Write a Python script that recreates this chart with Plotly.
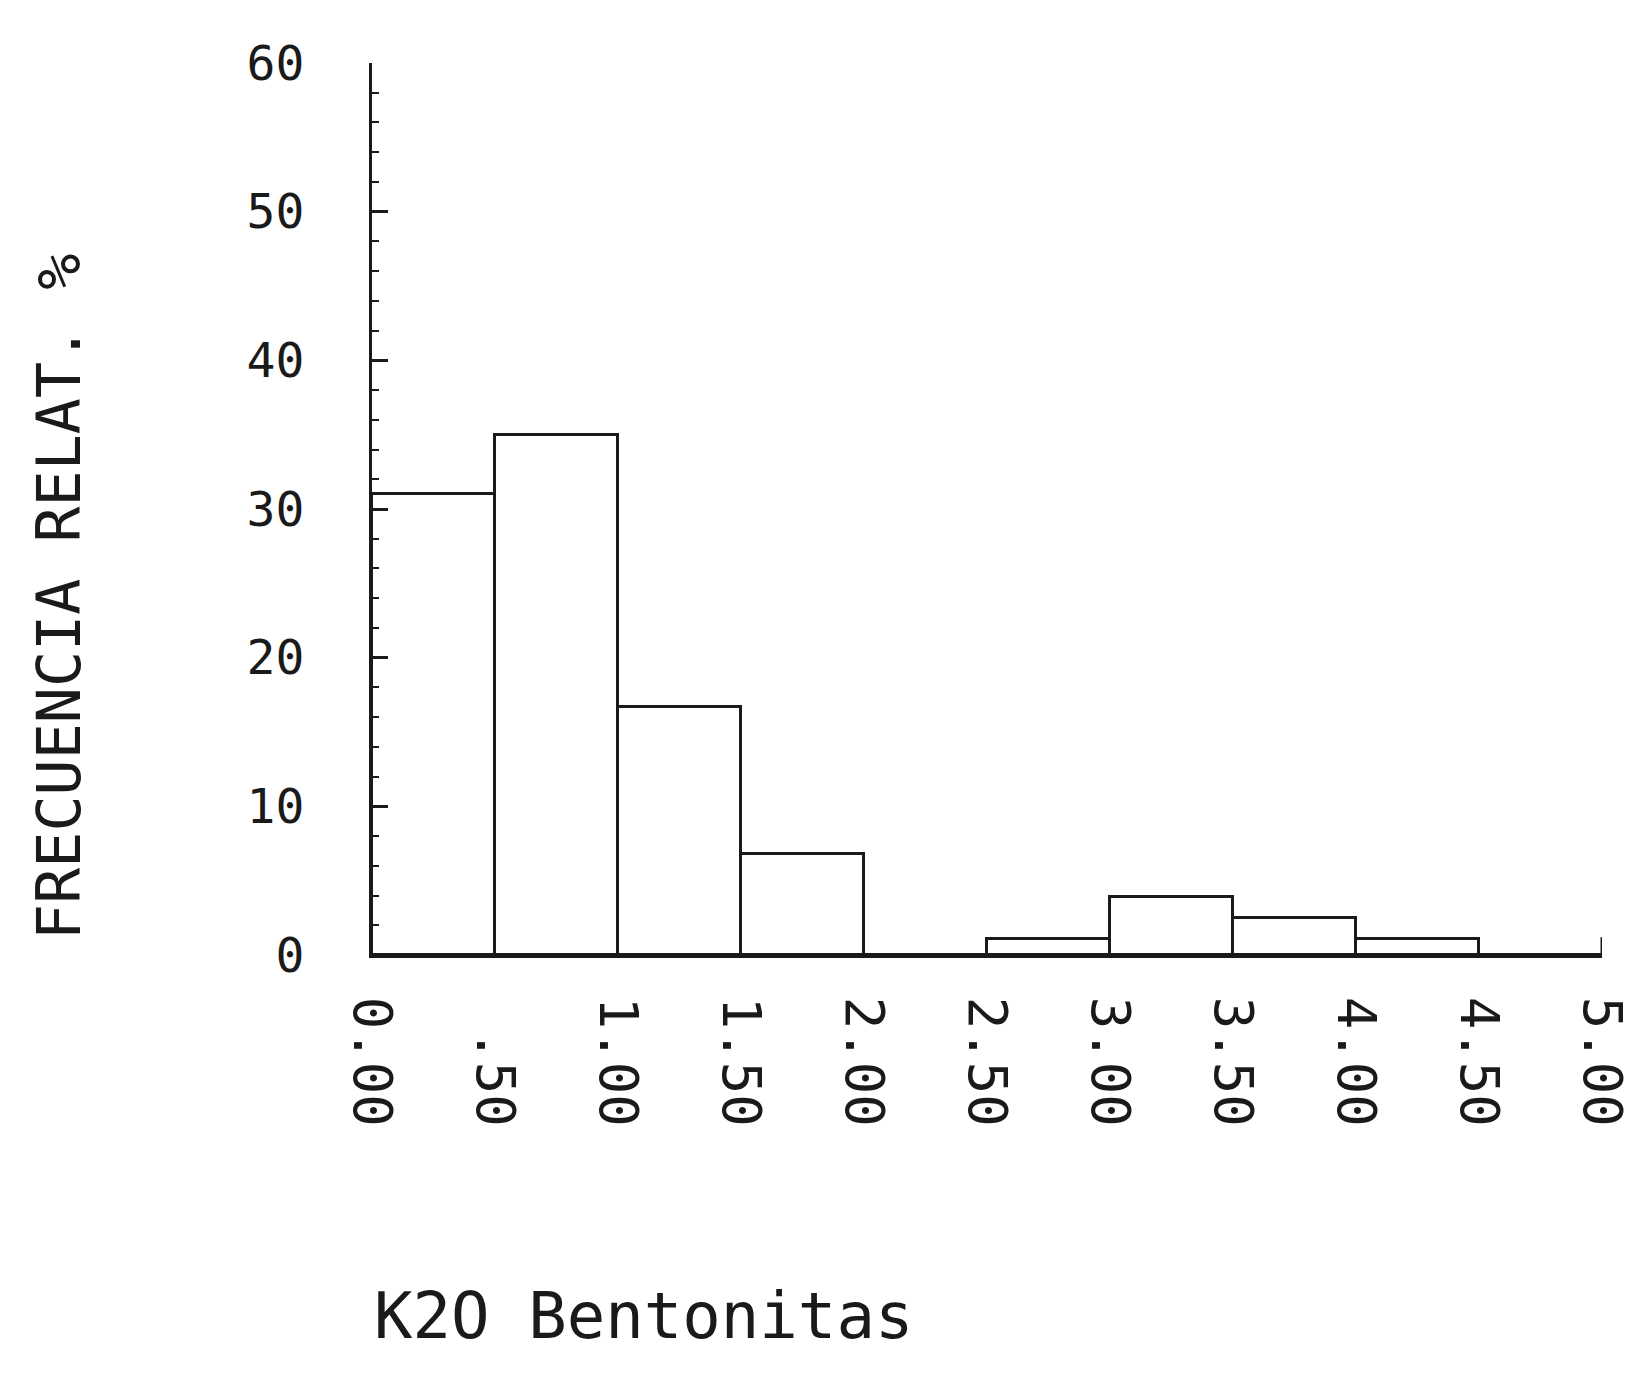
import plotly.graph_objects as go

# Data
bin_left = [0.0, 0.5, 1.0, 1.5, 2.0, 2.5, 3.0, 3.5, 4.0, 4.5]
freq_pct = [31.0, 35.0, 16.7, 6.8, 0.0, 1.1, 3.9, 2.5, 1.1, 0.0]
bin_width = 0.5
x_tick_vals = [0.0, 0.5, 1.0, 1.5, 2.0, 2.5, 3.0, 3.5, 4.0, 4.5, 5.0]
x_tick_text = ["0.00", "\u00a0.50", "1.00", "1.50", "2.00", "2.50",
               "3.00", "3.50", "4.00", "4.50", "5.00"]
y_tick_vals = [0, 10, 20, 30, 40, 50, 60]
y_title = "FRECUENCIA RELAT. %"
x_title = "K2O Bentonitas"

FONT = "DejaVu Sans Mono"
INK = "#1a1a1a"

centers = [b + bin_width / 2 for b in bin_left]

fig = go.Figure()
fig.add_trace(go.Bar(
    x=centers, y=freq_pct, width=bin_width,
    marker=dict(color="white", line=dict(color=INK, width=3)),
    cliponaxis=False, hoverinfo="skip", showlegend=False,
))

# end-of-axis tick at x = 5.00
fig.add_shape(type="line", xref="x", yref="y", x0=5.0, x1=5.0, y0=0, y1=1.2,
              line=dict(color=INK, width=3))

fig.update_layout(
    width=1642, height=1377,
    margin=dict(l=364, r=48, t=55, b=430),
    paper_bgcolor="white", plot_bgcolor="white",
    bargap=0,
    font=dict(family=FONT, color=INK),
)

fig.update_xaxes(
    range=[0, 5], showgrid=False, zeroline=False,
    showline=True, linecolor=INK, linewidth=3,
    ticks="", tickmode="array", tickvals=x_tick_vals, ticktext=x_tick_text,
    tickangle=90, tickfont=dict(family=FONT, size=54, color=INK),
    ticklabelstandoff=28,
)
fig.update_yaxes(
    range=[0, 60], showgrid=False, zeroline=False,
    showline=True, linecolor=INK, linewidth=3,
    ticks="inside", ticklen=16, tickwidth=3, tickcolor=INK,
    tickmode="array", tickvals=y_tick_vals,
    minor=dict(ticks="inside", dtick=2, ticklen=7, tickwidth=2, tickcolor=INK),
    tickfont=dict(family=FONT, size=48, color=INK),
    ticklabelstandoff=55,
)

fig.add_annotation(
    text=y_title, textangle=-90, xref="paper", yref="paper",
    x=-0.254, y=0.401, xanchor="center", yanchor="middle", showarrow=False,
    font=dict(family=FONT, size=60, color=INK),
)
fig.add_annotation(
    text=x_title, xref="paper", yref="paper",
    x=0.0, y=-0.405, xanchor="left", yanchor="middle", showarrow=False,
    font=dict(family=FONT, size=64, color=INK),
)

fig.write_html("out.html")
